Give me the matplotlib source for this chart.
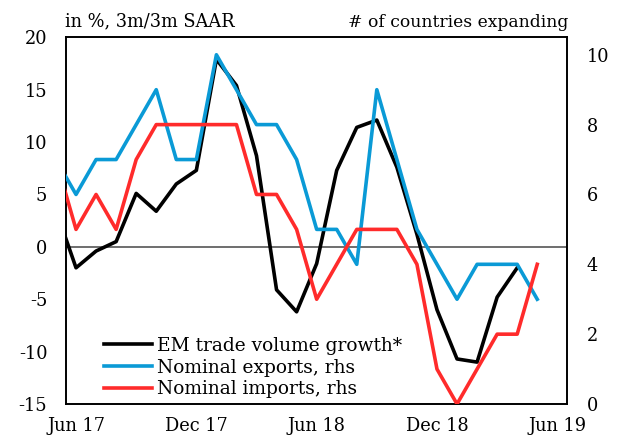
import numpy as np
import matplotlib.pyplot as plt

# --- Dados (mês a mês, de mai/17 a mai/19) ---
meses = ['May 17', 'Jun 17', 'Jul 17', 'Aug 17', 'Sep 17', 'Oct 17', 'Nov 17', 'Dec 17',
         'Jan 18', 'Feb 18', 'Mar 18', 'Apr 18', 'May 18', 'Jun 18', 'Jul 18', 'Aug 18',
         'Sep 18', 'Oct 18', 'Nov 18', 'Dec 18', 'Jan 19', 'Feb 19', 'Mar 19', 'Apr 19',
         'May 19']

# crescimento do volume de comércio EM (% 3m/3m SAAR), eixo esquerdo
volume = [3.5, -2.0, -0.4, 0.5, 5.1, 3.4, 6.0, 7.3, 17.9, 15.4, 8.7, -4.1, -6.2,
          -1.6, 7.3, 11.4, 12.1, 7.6, 1.2, -6.0, -10.7, -11.0, -4.8, -2.0, np.nan]

# número de países em expansão, eixo direito
exportacoes = [7, 6, 7, 7, 8, 9, 7, 7, 10, 9, 8, 8, 7, 5, 5, 4, 9, 7, 5, 4, 3, 4, 4, 4, 3]
importacoes = [7, 5, 6, 5, 7, 8, 8, 8, 8, 8, 6, 6, 5, 3, 4, 5, 5, 5, 4, 1, 0, 1, 2, 2, 4]

rotulos_x = ['Jun 17', 'Dec 17', 'Jun 18', 'Dec 18', 'Jun 19']
pos_rotulos = [1, 7, 13, 19, 25]

# --- Estilo ---
plt.rcParams['font.family'] = ['DejaVu Serif']
plt.rcParams['axes.unicode_minus'] = False
azul = '#0a9ad6'
vermelho = '#ff2b2b'

x = np.arange(len(meses))

fig = plt.figure(figsize=(6.18, 4.43), dpi=100)
ax = fig.add_axes([0.1068, 0.088, 0.8112, 0.8278])
ax2 = ax.twinx()

ax.axhline(0, color='#555555', lw=1.2, zorder=1)
l1, = ax.plot(x, volume, color='black', lw=2.6, zorder=4)
l2, = ax2.plot(x, exportacoes, color=azul, lw=2.6, zorder=3)
l3, = ax2.plot(x, importacoes, color=vermelho, lw=2.6, zorder=3)

ax.set_xlim(0.5, 25.5)
ax.set_ylim(-15, 20)
ax2.set_ylim(0, 10.5)
ax.set_yticks(range(-15, 21, 5))
ax2.set_yticks(range(0, 11, 2))
ax.set_xticks(pos_rotulos)
ax.set_xticklabels(rotulos_x)

for a in (ax, ax2):
    a.tick_params(length=0, labelsize=12.8)
    for s in a.spines.values():
        s.set_linewidth(1.2)
ax.tick_params(axis='y', pad=13.5)
ax2.tick_params(axis='y', pad=14)
ax.tick_params(axis='x', pad=9)

fig.text(0.105, 0.94, 'in %, 3m/3m SAAR', fontsize=12.8, ha='left', va='baseline')
fig.text(0.919, 0.94, '# of countries expanding', fontsize=12.3, ha='right', va='baseline')

ax.legend([l1, l2, l3], ['EM trade volume growth*', 'Nominal exports, rhs', 'Nominal imports, rhs'],
          loc='lower left', bbox_to_anchor=(0.06, -0.005), frameon=False, fontsize=13.4,
          handlelength=2.6, handletextpad=0.3, labelspacing=0.2, borderaxespad=0)

fig.savefig('out.png', dpi=100)
